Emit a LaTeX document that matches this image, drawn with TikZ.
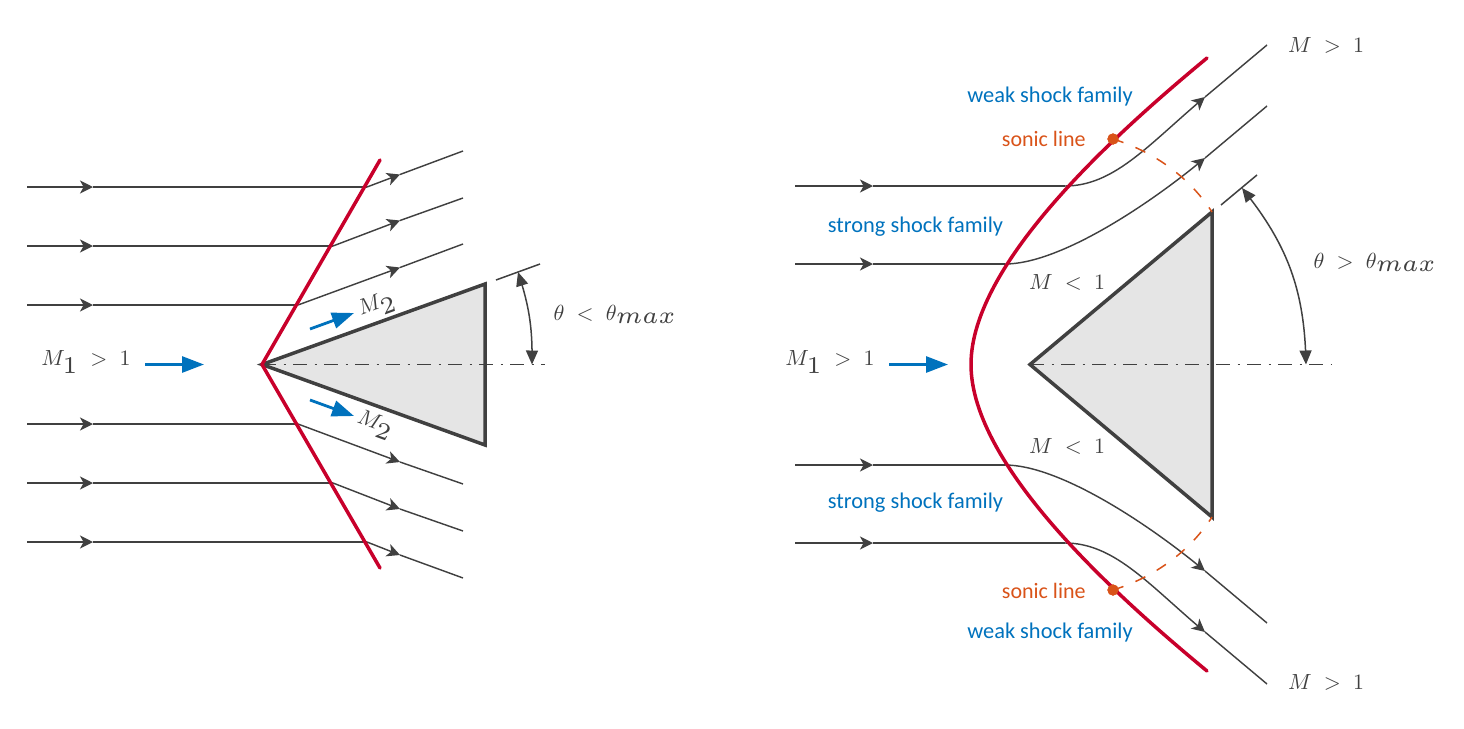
\documentclass[tikz,border=0pt]{standalone}
\usepackage{fontspec}
\setmainfont{Carlito}
\usetikzlibrary{arrows.meta,bending}
\definecolor{ink}{HTML}{404040}
\definecolor{shockred}{HTML}{C8002B}
\definecolor{flowblue}{HTML}{0072BD}
\definecolor{sonic}{HTML}{D95319}
\tikzset{
  stream/.style={draw=ink,line width=0.72pt},
  streamtip/.style={stream,-{Stealth[length=6.5pt,width=6.5pt,inset=1.8pt]}},
  shock/.style={draw=shockred,line width=1.75pt,line cap=round,line join=round},
  wedge/.style={draw=ink,fill=black!10,line width=1.75pt,line join=miter},
  axisline/.style={draw=ink,line width=0.9pt,dash pattern=on 7pt off 3.8pt on 1.1pt off 3.6pt},
  thetaarc/.style={draw=ink,line width=0.75pt,{Stealth[length=7pt,width=6pt,inset=0pt]}-{Stealth[length=7pt,width=6pt,inset=0pt]}},
  tickline/.style={draw=ink,line width=0.75pt},
  bluearrow/.style={draw=flowblue,line width=1.4pt,-{Stealth[length=11pt,width=8pt,inset=0pt]}},
  sonicline/.style={draw=sonic,line width=0.75pt,dash pattern=on 5.5pt off 6.5pt},
  sonicdot/.style={circle,fill=sonic,inner sep=0pt,minimum size=5.6pt},
  mathlabel/.style={text=ink,font=\fontsize{11.4}{14}\selectfont,inner sep=0pt},
  bluelabel/.style={text=flowblue,font=\fontsize{11.2}{13}\selectfont,inner sep=0pt},
  soniclabel/.style={text=sonic,font=\fontsize{11}{13}\selectfont,inner sep=0pt},
}
\newcommand{\bigsub}[1]{_{\scalebox{2}{$\scriptscriptstyle #1$}}}
\begin{document}
\begin{tikzpicture}[x=0.5pt,y=-0.5pt]
\useasboundingbox (0,0) rectangle (1464,729);
% ---------- LEFT ----------
\coordinate (lv) at (262,364.5);
\coordinate (ltu) at (485,284);
\coordinate (ltl) at (485,445);
\path[wedge] (lv) -- (ltu) -- (ltl) -- cycle;
\coordinate (laxe) at (545,364.5);
\path[axisline] (lv) -- (laxe);
% streamlines
\foreach \n/\y/\xk/\xm/\ym/\xe/\ye in {
  a/187/367/400/174.5/463/151,
  b/246/333/400/220.5/463/198,
  c/305/298/400/267.5/463/244,
  d/424/298/400/462/463/484,
  e/483/333/400/509/463/531,
  f/542/367/400/555/463/578}{
  \coordinate (s\n0) at (27,\y);
  \coordinate (s\n1) at (93,\y);
  \coordinate (s\n2) at (\xk,\y);
  \coordinate (s\n3) at (\xm,\ym);
  \coordinate (s\n4) at (\xe,\ye);
  \path[streamtip] (s\n0) -- (s\n1);
  \path[stream] (s\n1) -- (s\n2);
  \path[streamtip] (s\n2) -- (s\n3);
  \path[stream] (s\n3) -- (s\n4);
}
\coordinate (lsu) at (380,160);
\coordinate (lsl) at (380,568);
\path[shock] (lsu) -- (lv) -- (lsl);
% theta left
\coordinate (lt1) at (496,280);
\coordinate (lt2) at (540,264);
\path[tickline] (lt1) -- (lt2);
\coordinate (la1) at (518,272);
\coordinate (la2) at (532,364.5);
\path[thetaarc] (la1) to[bend left=9.6] (la2);
\node[mathlabel] (ltheta) at (615,314.5) {$\theta\;<\;\theta\bigsub{max}$};
% arrows
\node[mathlabel] (lm1) at (86,362) {$M\bigsub{1}\;>\;1$};
\coordinate (lb1) at (145,364.5);
\coordinate (lb2) at (204,364.5);
\path[bluearrow] (lb1) -- (lb2);
\coordinate (lb3) at (310,329);
\coordinate (lb4) at (354,313);
\path[bluearrow] (lb3) -- (lb4);
\coordinate (lb5) at (310,400);
\coordinate (lb6) at (354,416);
\path[bluearrow] (lb5) -- (lb6);
\node[mathlabel,rotate=20] (lm2u) at (377,306) {$M\bigsub{2}$};
\node[mathlabel,rotate=-20] (lm2l) at (375,425) {$M\bigsub{2}$};
% ---------- RIGHT ----------
\coordinate (rv) at (1030,364.5);
\coordinate (rtu) at (1212,212);
\coordinate (rtl) at (1212,517);
\path[wedge] (rv) -- (rtu) -- (rtl) -- cycle;
\coordinate (raxe) at (1331.5,364.5);
\path[axisline] (rv) -- (raxe);
% upper streams
\coordinate (r10) at (795,186);
\coordinate (r11) at (873,186);
\coordinate (r12) at (1065,186);
\coordinate (r13) at (1205,97);
\coordinate (r14) at (1267,45);
\path[streamtip] (r10) -- (r11);
\path[stream] (r11) -- (r12);
\path[streamtip] (r12) .. controls (1115,186) and (1150,143) .. (r13);
\path[stream] (r13) -- (r14);
\coordinate (r20) at (795,264);
\coordinate (r21) at (873,264);
\coordinate (r22) at (1005,264);
\coordinate (r23) at (1205,158);
\coordinate (r24) at (1267,106);
\path[streamtip] (r20) -- (r21);
\path[stream] (r21) -- (r22);
\path[streamtip] (r22) .. controls (1060,264) and (1150,204) .. (r23);
\path[stream] (r23) -- (r24);
% lower streams
\coordinate (r30) at (795,465);
\coordinate (r31) at (873,465);
\coordinate (r32) at (1005,465);
\coordinate (r33) at (1205,571);
\coordinate (r34) at (1267,623);
\path[streamtip] (r30) -- (r31);
\path[stream] (r31) -- (r32);
\path[streamtip] (r32) .. controls (1060,465) and (1150,525) .. (r33);
\path[stream] (r33) -- (r34);
\coordinate (r40) at (795,543);
\coordinate (r41) at (873,543);
\coordinate (r42) at (1065,543);
\coordinate (r43) at (1205,632);
\coordinate (r44) at (1267,684);
\path[streamtip] (r40) -- (r41);
\path[stream] (r41) -- (r42);
\path[streamtip] (r42) .. controls (1115,543) and (1150,586) .. (r43);
\path[stream] (r43) -- (r44);
% sonic lines
\node[sonicdot] (sdu) at (1113,139) {};
\node[sonicdot] (sdl) at (1113,590) {};
\path[sonicline] (sdu.center) .. controls (1155,152) and (1190,178) .. (rtu);
\path[sonicline] (sdl.center) .. controls (1155,577) and (1190,551) .. (rtl);
% shock
\coordinate (rsu) at (1207,58);
\coordinate (rsv) at (971,364.5);
\coordinate (rsl) at (1207,671);
\path[shock] (rsu) .. controls (1120,130) and (971,262) .. (rsv)
             .. controls (971,467) and (1120,599) .. (rsl);
\node[sonicdot] at (sdu.center) {};
\node[sonicdot] at (sdl.center) {};
% theta right
\coordinate (rt1) at (1221,205);
\coordinate (rt2) at (1257,175);
\path[tickline] (rt1) -- (rt2);
\coordinate (ra1) at (1242,188);
\coordinate (ra2) at (1306,364.5);
\path[thetaarc] (ra1) to[bend left=19] (ra2);
\node[mathlabel] (rtheta) at (1375,262.5) {$\theta\;>\;\theta\bigsub{max}$};
% blue
\node[mathlabel] (rm1) at (830,362) {$M\bigsub{1}\;>\;1$};
\coordinate (rb1) at (889,364.5);
\coordinate (rb2) at (948,364.5);
\path[bluearrow] (rb1) -- (rb2);
% labels
\node[mathlabel] (rm3) at (1326,45) {$M\;>\;1$};
\node[mathlabel] (rm4) at (1326,682) {$M\;>\;1$};
\node[mathlabel] (rm5) at (1067,282) {$M\;<\;1$};
\node[mathlabel] (rm6) at (1067,446) {$M\;<\;1$};
\node[bluelabel] (w1) at (1050,97) {weak shock family};
\node[bluelabel] (w2) at (1050,633) {weak shock family};
\node[bluelabel] (st1) at (915.5,227) {strong shock family};
\node[bluelabel] (st2) at (915.5,503) {strong shock family};
\node[soniclabel,anchor=east] (sl1) at (1086,139) {sonic line};
\node[soniclabel,anchor=east] (sl2) at (1086,591) {sonic line};
\end{tikzpicture}
\end{document}
